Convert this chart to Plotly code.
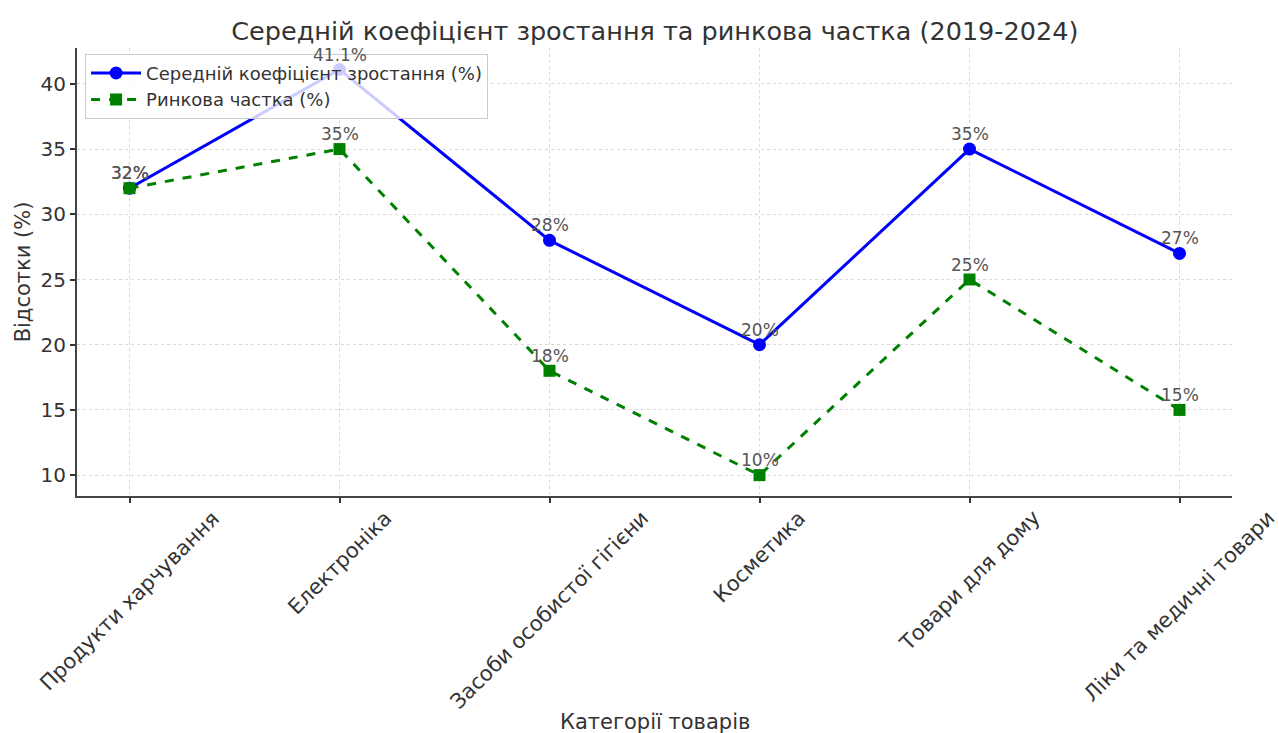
import plotly.graph_objects as go

categories = [
    "Продукти харчування",
    "Електроніка",
    "Засоби особистої гігієни",
    "Косметика",
    "Товари для дому",
    "Ліки та медичні товари",
]
growth_rate = [32, 41.1, 28, 20, 35, 27]
market_share = [32, 35, 18, 10, 25, 15]
growth_labels = ["32%", "41.1%", "28%", "20%", "35%", "27%"]
share_labels = ["32%", "35%", "18%", "10%", "25%", "15%"]

FONT = "DejaVu Sans"
TEXT = "#333333"

fig = go.Figure()
fig.add_trace(go.Scatter(
    x=categories, y=growth_rate, mode="lines+markers",
    name="Середній коефіцієнт зростання (%)",
    line=dict(color="#0000ff", width=3),
    marker=dict(symbol="circle", size=13, color="#0000ff"),
))
fig.add_trace(go.Scatter(
    x=categories, y=market_share, mode="lines+markers",
    name="Ринкова частка (%)",
    line=dict(color="#008000", width=3, dash="dash"),
    marker=dict(symbol="square", size=12, color="#008000"),
))

# value labels above each point
for labels, values in ((growth_labels, growth_rate), (share_labels, market_share)):
    for cat, val, lab in zip(categories, values, labels):
        fig.add_annotation(
            x=cat, y=val, text=lab, showarrow=False,
            yshift=15, yanchor="middle",
            font=dict(family=FONT, size=17, color="#555555"),
        )

# category labels: rotated 45°, centred under each tick
for cat in categories:
    fig.add_annotation(
        x=cat, xref="x", y=0, yref="paper", yshift=-9,
        text=cat, textangle=-45, showarrow=False, borderpad=0,
        xanchor="center", yanchor="top",
        font=dict(family=FONT, size=21, color=TEXT),
    )

# x-axis title
fig.add_annotation(
    x=0.5, xref="paper", y=0, yref="paper", yshift=-226,
    text="Категорії товарів", showarrow=False,
    xanchor="center", yanchor="middle",
    font=dict(family=FONT, size=21, color=TEXT),
)

fig.update_layout(
    width=1279, height=733,
    margin=dict(l=77, r=47, t=48, b=237),
    paper_bgcolor="white", plot_bgcolor="white",
    font=dict(family=FONT, color=TEXT),
    title=dict(
        text="Середній коефіцієнт зростання та ринкова частка (2019-2024)",
        x=0.512, xanchor="center", y=0.958, yanchor="middle",
        font=dict(family=FONT, size=25.5, color=TEXT),
    ),
    legend=dict(
        x=0.007, y=0.987, xanchor="left", yanchor="top",
        bgcolor="rgba(255,255,255,0.8)", bordercolor="#cccccc", borderwidth=1,
        font=dict(family=FONT, size=18, color=TEXT),
        itemwidth=50, tracegroupgap=2,
    ),
    showlegend=True,
)

fig.update_xaxes(
    type="category", range=[-0.25, 5.25], automargin=False,
    showticklabels=False,
    ticks="outside", ticklen=5, tickwidth=1.5, tickcolor="#333333",
    showline=True, linecolor="#444444", linewidth=2,
    showgrid=True, gridcolor="#d9d9d9", gridwidth=1, griddash="dot",
    zeroline=False,
)
fig.update_yaxes(
    range=[8.4, 42.75], tickvals=[10, 15, 20, 25, 30, 35, 40], automargin=False,
    tickfont=dict(family=FONT, size=20, color=TEXT),
    ticks="outside", ticklen=5, tickwidth=1.5, tickcolor="#333333",
    showline=True, linecolor="#444444", linewidth=2,
    showgrid=True, gridcolor="#d9d9d9", gridwidth=1, griddash="dot",
    title=dict(text="Відсотки (%)", font=dict(family=FONT, size=21, color=TEXT), standoff=4),
    zeroline=False,
)

fig.write_html("out.html")
